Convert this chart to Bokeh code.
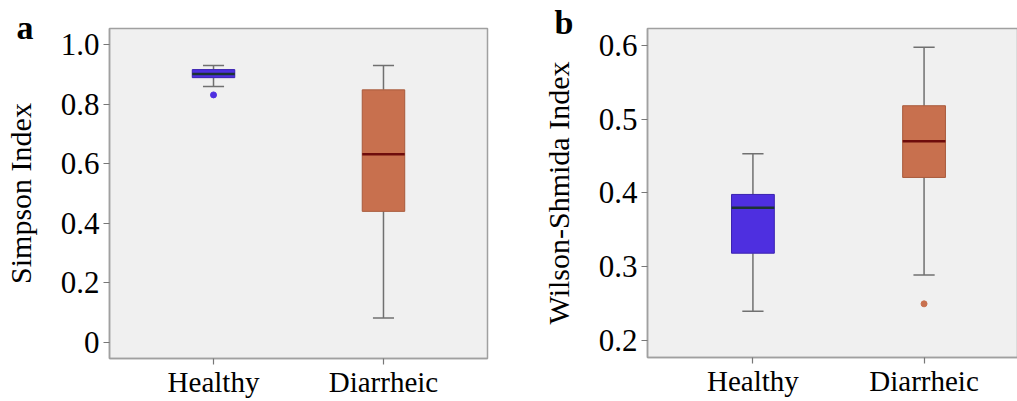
from bokeh.plotting import figure
from bokeh.layouts import row
from bokeh.models import Range1d, FixedTicker, Title
from bokeh.embed import file_html
from bokeh.resources import INLINE

categories = ["Healthy", "Diarrheic"]

# Panel a: Simpson Index
simpson_lower = [0.859, 0.082]
simpson_q1 = [0.889, 0.440]
simpson_median = [0.901, 0.632]
simpson_q3 = [0.916, 0.848]
simpson_upper = [0.930, 0.930]
simpson_outliers_cat = ["Healthy"]
simpson_outliers = [0.831]
simpson_ticks = [0, 0.2, 0.4, 0.6, 0.8, 1.0]
simpson_tick_labels = ["0", "0.2", "0.4", "0.6", "0.8", "1.0"]

# Panel b: Wilson-Shmida Index
ws_lower = [0.240, 0.289]
ws_q1 = [0.3185, 0.421]
ws_median = [0.380, 0.470]
ws_q3 = [0.398, 0.518]
ws_upper = [0.453, 0.597]
ws_outliers_cat = ["Diarrheic"]
ws_outliers = [0.250]
ws_ticks = [0.2, 0.3, 0.4, 0.5, 0.6]
ws_tick_labels = ["0.2", "0.3", "0.4", "0.5", "0.6"]

fill_colors = ["#4e2fe0", "#c8704e"]
edge_colors = ["#3a22b0", "#a85a3c"]
median_colors = ["#1c3434", "#6e0c0c"]

FONT = "Liberation Serif"
GRAY = "#a0a0a0"


def make_panel(lower, q1, med, q3, upper, out_cat, out_val, ticks, tick_labels,
               ylabel, yr, xr, frame_w, frame_h, left, right, top, bottom, letter, standoff):
    xs = [i + 1 for i in range(len(categories))]
    p = figure(frame_width=frame_w, frame_height=frame_h,
               x_range=Range1d(*xr), y_range=Range1d(*yr),
               output_backend="svg", toolbar_location=None,
               min_border_left=left, min_border_top=top, min_border_right=right,
               min_border_bottom=bottom)
    p.background_fill_color = "#f0f0f0"
    p.border_fill_color = "white"
    p.outline_line_color = GRAY
    p.outline_line_width = 1.5
    p.grid.visible = False

    # panel letter
    t = Title(text=letter, text_font=FONT, text_font_size="34px",
              text_font_style="bold", text_color="black",
              standoff=standoff, offset=-93, align="left")
    p.add_layout(t, "above")

    # whiskers
    p.segment(x0=xs, y0=lower, x1=xs, y1=q1, line_color="#707070", line_width=1.5)
    p.segment(x0=xs, y0=q3, x1=xs, y1=upper, line_color="#707070", line_width=1.5)
    cap = 0.062
    p.segment(x0=[x - cap for x in xs], y0=lower, x1=[x + cap for x in xs], y1=lower,
              line_color="#707070", line_width=1.5)
    p.segment(x0=[x - cap for x in xs], y0=upper, x1=[x + cap for x in xs], y1=upper,
              line_color="#707070", line_width=1.5)
    # boxes
    p.vbar(x=xs, width=0.25, bottom=q1, top=q3, fill_color=fill_colors,
           line_color=edge_colors, line_width=1)
    # medians
    p.segment(x0=[x - 0.125 for x in xs], y0=med, x1=[x + 0.125 for x in xs], y1=med,
              line_color=median_colors, line_width=2.5)
    # outliers
    ox = [categories.index(c) + 1 for c in out_cat]
    oc = [fill_colors[categories.index(c)] for c in out_cat]
    p.scatter(x=ox, y=out_val, size=6, fill_color=oc, line_color=oc)

    # axes
    p.xaxis.ticker = FixedTicker(ticks=xs)
    p.xaxis.major_label_overrides = {x: c for x, c in zip(xs, categories)}
    p.yaxis.ticker = FixedTicker(ticks=ticks)
    p.yaxis.major_label_overrides = {t: l for t, l in zip(ticks, tick_labels)}
    for ax in (p.xaxis[0], p.yaxis[0]):
        ax.axis_line_color = GRAY
        ax.axis_line_width = 1.5
        ax.major_tick_line_color = "#777777"
        ax.major_tick_line_width = 1.2
        ax.major_tick_out = 6
        ax.major_tick_in = 0
        ax.minor_tick_line_color = None
        ax.major_label_text_font = FONT
        ax.major_label_text_color = "black"
    p.xaxis.major_label_text_font_size = "29px"
    p.xaxis.major_label_standoff = 1
    p.yaxis.major_label_text_font_size = "31px"
    p.yaxis.major_label_standoff = 4
    p.yaxis.axis_label = ylabel
    p.yaxis.axis_label_text_font = FONT
    p.yaxis.axis_label_text_font_size = "30px"
    p.yaxis.axis_label_text_font_style = "normal"
    p.yaxis.axis_label_text_color = "black"
    p.yaxis.axis_label_standoff = 21
    return p


pa = make_panel(simpson_lower, simpson_q1, simpson_median, simpson_q3, simpson_upper,
                simpson_outliers_cat, simpson_outliers, simpson_ticks, simpson_tick_labels,
                "Simpson Index", (-0.054, 1.054), (0.388, 2.612),
                378, 330, 108, 22, 23, 48, "a", -35)
pb = make_panel(ws_lower, ws_q1, ws_median, ws_q3, ws_upper,
                ws_outliers_cat, ws_outliers, ws_ticks, ws_tick_labels,
                "Wilson-Shmida Index", (0.1774, 0.6225), (0.384, 2.546),
                370, 329, 138, 1, 28, 44, "b", -25)

layout = row(pa, pb)
open("out.html", "w").write(file_html(layout, INLINE))
